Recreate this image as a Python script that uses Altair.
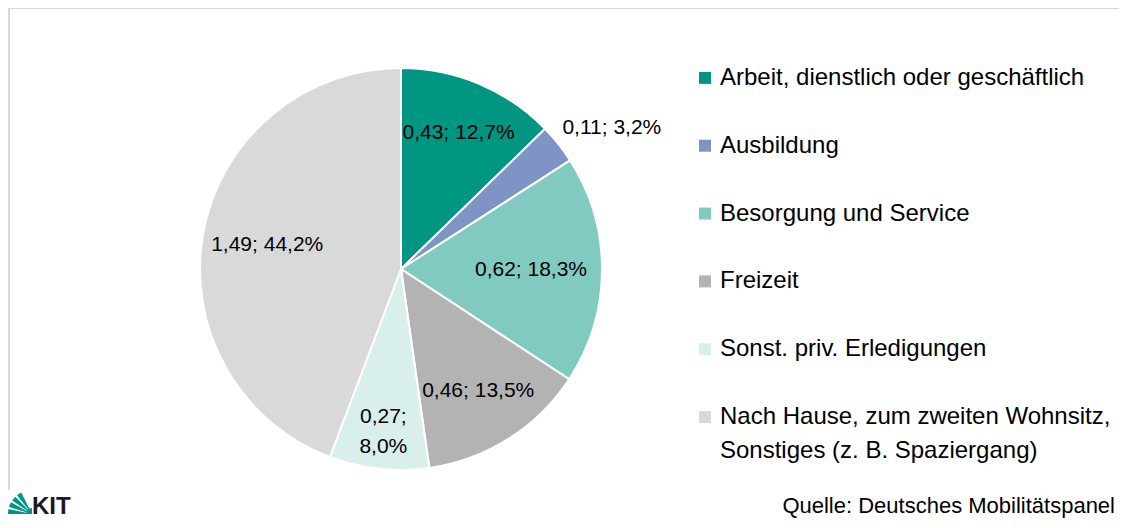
import altair as alt
import pandas as pd

categories = [
    "Arbeit, dienstlich oder geschäftlich",
    "Ausbildung",
    "Besorgung und Service",
    "Freizeit",
    "Sonst. priv. Erledigungen",
    "Nach Hause, zum zweiten Wohnsitz, Sonstiges (z. B. Spaziergang)",
]
legend_labels = [
    "Arbeit, dienstlich oder geschäftlich",
    "Ausbildung",
    "Besorgung und Service",
    "Freizeit",
    "Sonst. priv. Erledigungen",
    "Nach Hause, zum zweiten Wohnsitz,\nSonstiges (z. B. Spaziergang)",
]
values = [0.43, 0.11, 0.62, 0.46, 0.27, 1.49]
shares = [12.7, 3.2, 18.3, 13.5, 8.0, 44.2]
colors = ["#009682", "#8093c6", "#80cac0", "#b3b3b3", "#d9efec", "#d9d9d9"]
source_text = "Quelle: Deutsches Mobilitätspanel"


def fmt(v, d):
    return f"{v:.{d}f}".replace(".", ",")


labels = []
for c, v, s in zip(categories, values, shares):
    sep = ";\n" if c.startswith("Sonst.") else "; "
    labels.append(f"{fmt(v, 2)}{sep}{fmt(s, 1)}%")

df = pd.DataFrame({
    "cat": categories,
    "legend": legend_labels,
    "value": values,
    "share": shares,
    "label": labels,
    "idx": list(range(len(categories))),
})

W, H = 1111, 512
CX, CY, R = 393, 261, 201
FONT = "Liberation Sans"

color = alt.Color("cat:N", scale=alt.Scale(domain=categories, range=colors), legend=None)
theta = alt.Theta("share:Q", stack=True)
order = alt.Order("idx:Q")
cx = alt.value(CX)
cy = alt.value(CY)

arcs = alt.Chart(df).mark_arc(outerRadius=R, stroke="white", strokeWidth=2).encode(
    theta=theta, order=order, color=color, x=cx, y=cy
)

# label placement per slice: (slice index, label radius, align, dx, dy)
label_specs = [
    (0, 148, "center", 0, 0),
    (1, 210, "left", -3, -10),
    (2, 130, "center", 0, 0),
    (3, 144, "center", 0, 0),
    (4, 161, "center", 0, -12),
    (5, 136, "center", 0, 0),
]
label_layers = []
for k, r, al, ddx, ddy in label_specs:
    label_layers.append(
        alt.Chart(df).transform_calculate(
            txt=f"datum.idx == {k} ? datum.label : ''"
        ).mark_text(
            font=FONT, fontSize=21, color="black", lineBreak="\n", lineHeight=30,
            radius=r, align=al, dx=ddx, dy=ddy
        ).encode(theta=theta, order=order, text="txt:N", x=cx, y=cy)
    )

leg_y = alt.Y(
    "cat:N",
    scale=alt.Scale(type="point", domain=categories, range=[69.9, 409], padding=0),
    axis=None,
)
leg_sq = alt.Chart(df).mark_square(size=144, opacity=1).encode(
    x=alt.value(697), y=leg_y, color=color
)
leg_txt = alt.Chart(df).mark_text(
    font=FONT, align="left", baseline="alphabetic", dy=7, fontSize=24,
    lineBreak="\n", lineHeight=34, color="black"
).encode(x=alt.value(712), y=leg_y, text="legend:N")

src_df = pd.DataFrame({"t": [source_text]})
source = alt.Chart(src_df).mark_text(
    font=FONT, align="right", baseline="middle", fontSize=22, color="black"
).encode(x=alt.value(1107), y=alt.value(498), text="t:N")

border_top = alt.Chart(src_df).mark_rule(color="#d9d9d9", strokeWidth=2).encode(
    x=alt.value(0), x2=alt.value(W), y=alt.value(0)
)
border_left = alt.Chart(src_df).mark_rule(color="#d9d9d9", strokeWidth=2).encode(
    x=alt.value(1), y=alt.value(0), y2=alt.value(482)
)

# KIT logo: green fan + lettering
LX, LY = 24, 506
logo_layers = []
for a, b in [(4.71, 4.92), (5.01, 5.22), (5.31, 5.52), (5.61, 5.82)]:
    logo_layers.append(
        alt.Chart(src_df).mark_arc(theta=a, theta2=b, outerRadius=24, color="#009682").encode(
            x=alt.value(LX), y=alt.value(LY)
        )
    )
logo_layers.append(
    alt.Chart(src_df).mark_arc(theta=4.71, theta2=6.28, outerRadius=6, color="#009682").encode(
        x=alt.value(LX), y=alt.value(LY)
    )
)
logo_text = alt.Chart(pd.DataFrame({"t": ["KIT"]})).mark_text(
    font=FONT, fontWeight="bold", fontSize=24, align="left", baseline="alphabetic", color="#1a1a1a"
).encode(x=alt.value(LX), y=alt.value(LY), text="t:N")

chart = alt.layer(
    border_top, border_left, arcs, *label_layers, leg_sq, leg_txt, source, *logo_layers, logo_text
).properties(
    width=W, height=H, padding=0, autosize="none", background="white"
).configure_view(stroke=None)

chart.save("out.html", embed_options={"renderer": "svg", "actions": False})
